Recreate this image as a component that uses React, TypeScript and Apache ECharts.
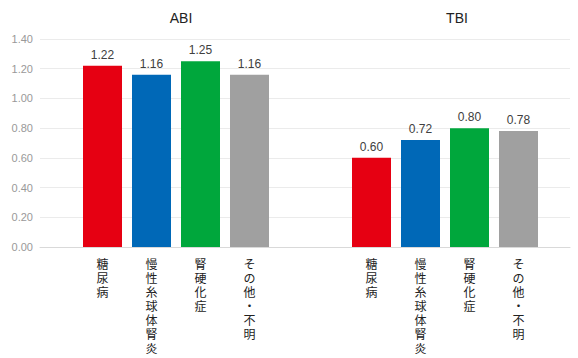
import React, { useEffect, useRef } from "react";
import * as echarts from "echarts";

const categories = ["糖尿病", "慢性糸球体腎炎", "腎硬化症", "その他・不明"];
const abiValues = [1.22, 1.16, 1.25, 1.16];
const tbiValues = [0.6, 0.72, 0.8, 0.78];
const barColors = ["#E60012", "#0068B7", "#00A73C", "#A0A0A0"];
const groupTitles = ["ABI", "TBI"];

const FONT = "'Liberation Sans', 'Noto Sans CJK JP', sans-serif";

export default function App() {
  const ref = useRef<HTMLDivElement>(null);
  useEffect(() => {
    if (!ref.current) return;
    const chart = echarts.init(ref.current, null, { renderer: "svg" });
    const top = 39;
    const bottom = 111;
    const hiddenY = (gi: number) => ({
      type: "value",
      gridIndex: gi,
      min: 0,
      max: 1.4,
      interval: 0.2,
      show: false,
    });
    const catX = (gi: number) => ({
      type: "category",
      gridIndex: gi,
      data: categories,
      axisLine: { show: false },
      axisTick: { show: false },
      axisLabel: {
        interval: 0,
        margin: 11,
        fontSize: 12,
        lineHeight: 14,
        color: "#222",
        fontFamily: FONT,
        verticalAlign: "top",
        formatter: (v: string) => v.split("").join("\n"),
      },
    });
    const mkSeries = (vals: number[], gi: number) => ({
      type: "bar",
      xAxisIndex: gi,
      yAxisIndex: gi,
      barWidth: 39,
      data: vals.map((v, i) => ({ value: v, itemStyle: { color: barColors[i] } })),
      label: {
        show: true,
        position: "top",
        distance: 5,
        fontSize: 12,
        color: "#404040",
        fontFamily: FONT,
        formatter: (p: any) => Number(p.value).toFixed(2),
      },
    });
    chart.setOption({
      animation: false,
      backgroundColor: "#fff",
      grid: [
        { left: 40, right: 8, top, bottom },
        { left: 78, width: 196, top, bottom },
        { left: 347, width: 196, top, bottom },
      ],
      xAxis: [
        {
          type: "value",
          gridIndex: 0,
          min: 0,
          max: 1,
          axisLabel: { show: false },
          axisTick: { show: false },
          splitLine: { show: false },
          axisLine: { show: true, lineStyle: { color: "#d9d9d9", width: 1 } },
        },
        catX(1),
        catX(2),
      ],
      yAxis: [
        {
          type: "value",
          gridIndex: 0,
          min: 0,
          max: 1.4,
          interval: 0.2,
          axisLine: { show: false },
          axisTick: { show: false },
          axisLabel: {
            margin: 7,
            fontSize: 11,
            color: "#999",
            fontFamily: FONT,
            formatter: (v: number) => v.toFixed(2),
          },
          splitLine: { lineStyle: { color: "#ebebeb", width: 1 } },
        },
        hiddenY(1),
        hiddenY(2),
      ],
      graphic: [
        {
          type: "text",
          x: 181,
          y: 18,
          style: {
            text: groupTitles[0],
            textAlign: "center",
            textVerticalAlign: "middle",
            fontSize: 14,
            fill: "#222",
            fontFamily: FONT,
          },
        },
        {
          type: "text",
          x: 457,
          y: 18,
          style: {
            text: groupTitles[1],
            textAlign: "center",
            textVerticalAlign: "middle",
            fontSize: 14,
            fill: "#222",
            fontFamily: FONT,
          },
        },
      ],
      series: [mkSeries(abiValues, 1), mkSeries(tbiValues, 2)],
    });
    return () => chart.dispose();
  }, []);
  return <div ref={ref} style={{ width: 578, height: 358, position: "absolute", left: 0, top: 0 }} />;
}
